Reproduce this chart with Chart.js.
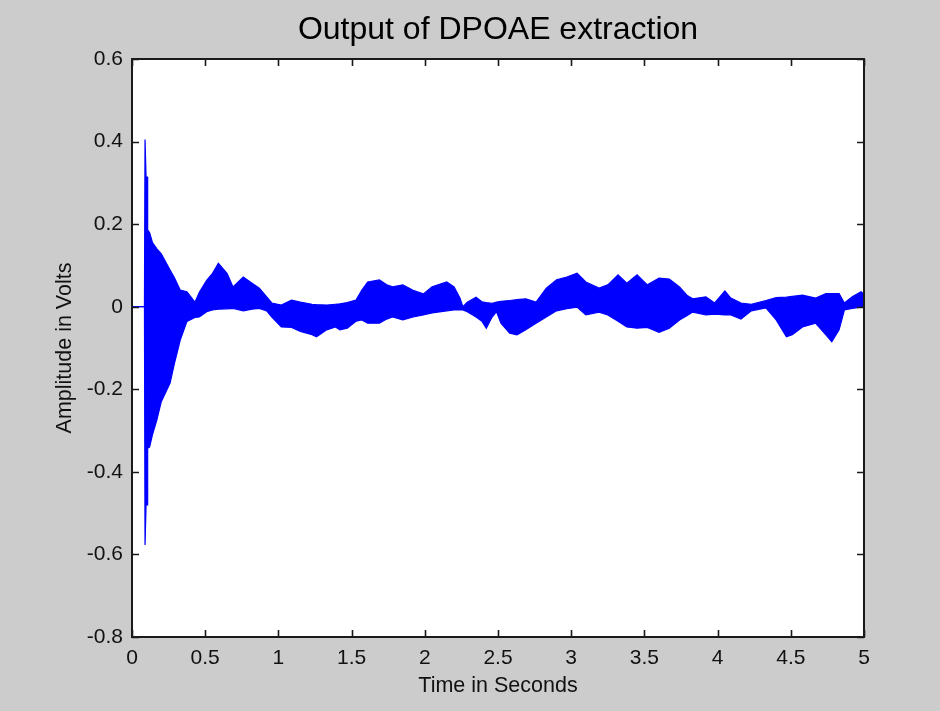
<!DOCTYPE html>
<html>
<head>
<meta charset="utf-8">
<script src="https://cdn.jsdelivr.net/npm/chart.js@4"></script>
<style>
  html, body { margin: 0; padding: 0; background: #cccccc; }
  #wrap { width: 940px; height: 711px; }
</style>
</head>
<body>
<div id="wrap"><canvas id="c" width="940" height="711"></canvas></div>
<script>
// Envelope of the extracted DPOAE signal: time (s), upper and lower amplitude (V)
const timeSec = [
  0, 0.085, 0.089, 0.096, 0.105, 0.107, 0.12, 0.14, 0.17, 0.2,
  0.26, 0.29, 0.33, 0.375, 0.43, 0.46, 0.51, 0.55, 0.59, 0.65,
  0.69, 0.76, 0.82, 0.87, 0.92, 0.955, 1.02, 1.09, 1.15, 1.23,
  1.26, 1.33, 1.39, 1.42, 1.47, 1.53, 1.57, 1.61, 1.69, 1.74,
  1.78, 1.85, 1.92, 1.99, 2.05, 2.15, 2.2, 2.24, 2.26, 2.29,
  2.35, 2.39, 2.42, 2.46, 2.49, 2.52, 2.58, 2.63, 2.69, 2.76,
  2.83, 2.9, 2.97, 3.04, 3.1, 3.19, 3.25, 3.32, 3.38, 3.45,
  3.52, 3.6, 3.67, 3.74, 3.79, 3.83, 3.92, 3.98, 4.05, 4.09,
  4.16, 4.23, 4.33, 4.4, 4.47, 4.51, 4.58, 4.67, 4.74, 4.78,
  4.83, 4.866, 4.92, 4.98, 5.0
];
const upperV = [
  0, 0, 0.405, 0.314, 0.314, 0.186, 0.18, 0.155, 0.14, 0.128,
  0.089, 0.07, 0.04, 0.036, 0.011, 0.035, 0.064, 0.081, 0.105, 0.08,
  0.048, 0.072, 0.057, 0.045, 0.024, 0.009, 0.004, 0.016, 0.011, 0.006,
  0.005, 0.004, 0.006, 0.007, 0.01, 0.016, 0.04, 0.06, 0.065, 0.053,
  0.048, 0.053, 0.04, 0.031, 0.048, 0.06, 0.048, 0.021, 0.0, 0.011,
  0.023, 0.012, 0.01, 0.008, 0.011, 0.013, 0.015, 0.017, 0.019, 0.011,
  0.045, 0.065, 0.072, 0.081, 0.06, 0.045, 0.053, 0.077, 0.057, 0.077,
  0.053, 0.069, 0.067, 0.048, 0.028, 0.019, 0.024, 0.009, 0.038, 0.021,
  0.009, 0.006, 0.015, 0.022, 0.023, 0.025, 0.028, 0.021, 0.032, 0.032,
  0.032, 0.009, 0.024, 0.036, 0.03
];
const lowerV = [
  0, 0, -0.577, -0.48, -0.48, -0.343, -0.34, -0.31, -0.274, -0.23,
  -0.185, -0.137, -0.08, -0.036, -0.026, -0.025, -0.012, -0.008, -0.006, -0.005,
  -0.004, -0.01, -0.006, -0.004, -0.01, -0.025, -0.049, -0.05, -0.06, -0.068,
  -0.073, -0.056, -0.049, -0.056, -0.052, -0.035, -0.032, -0.04, -0.04, -0.03,
  -0.025, -0.032, -0.025, -0.02, -0.015, -0.01, -0.008, -0.008, -0.008, -0.012,
  -0.025, -0.035, -0.052, -0.025, -0.012, -0.04, -0.064, -0.068, -0.056, -0.04,
  -0.025, -0.01, -0.005, -0.001, -0.02, -0.013, -0.02, -0.035, -0.049, -0.052,
  -0.05, -0.062, -0.052, -0.032, -0.022, -0.013, -0.02, -0.018, -0.02, -0.02,
  -0.03, -0.01, -0.003, -0.032, -0.073, -0.068, -0.049, -0.04, -0.068, -0.085,
  -0.056, -0.008, -0.004, -0.001, 0.0
];
const xTickValues = [0, 0.5, 1, 1.5, 2, 2.5, 3, 3.5, 4, 4.5, 5];
const yTickValues = [-0.8, -0.6, -0.4, -0.2, 0, 0.2, 0.4, 0.6];
const chartTitle = 'Output of DPOAE extraction';

const BLUE = '#0000ff';
const FONT = '"Liberation Sans", Arial, sans-serif';
const fmt = v => String(Math.round(v * 10) / 10);

// Gray figure, white axes box, black frame with inward ticks on all four sides,
// and the title centred over the axes box
const framePlugin = {
  id: 'frame',
  beforeDraw(chart) {
    const { ctx, chartArea: a } = chart;
    ctx.save();
    ctx.fillStyle = '#cccccc';
    ctx.fillRect(0, 0, chart.width, chart.height);
    ctx.fillStyle = '#ffffff';
    ctx.fillRect(a.left, a.top, a.right - a.left, a.bottom - a.top);
    ctx.restore();
  },
  afterDraw(chart) {
    const { ctx, chartArea: a, scales } = chart;
    const L = 7;
    ctx.save();
    ctx.strokeStyle = '#1a1a1a';
    ctx.lineWidth = 1.6;
    ctx.beginPath();
    xTickValues.forEach(v => {
      const x = Math.round(scales.x.getPixelForValue(v)) + 0.5;
      ctx.moveTo(x, a.bottom); ctx.lineTo(x, a.bottom - L);
      ctx.moveTo(x, a.top); ctx.lineTo(x, a.top + L);
    });
    yTickValues.forEach(v => {
      const y = Math.round(scales.y.getPixelForValue(v)) + 0.5;
      ctx.moveTo(a.left, y); ctx.lineTo(a.left + L, y);
      ctx.moveTo(a.right, y); ctx.lineTo(a.right - L, y);
    });
    ctx.stroke();
    ctx.lineWidth = 2;
    ctx.strokeRect(a.left, a.top, a.right - a.left, a.bottom - a.top);

    ctx.fillStyle = '#000';
    ctx.font = '32px ' + FONT;
    ctx.textAlign = 'center';
    ctx.textBaseline = 'middle';
    ctx.fillText(chartTitle, (a.left + a.right) / 2, 30);
    ctx.restore();
  }
};

new Chart(document.getElementById('c'), {
  type: 'line',
  data: {
    labels: timeSec,
    datasets: [
      {
        label: 'upper',
        data: timeSec.map((t, i) => ({ x: t, y: upperV[i] })),
        borderColor: BLUE,
        backgroundColor: BLUE,
        borderWidth: 1.2,
        pointRadius: 0,
        tension: 0,
        fill: false
      },
      {
        label: 'lower',
        data: timeSec.map((t, i) => ({ x: t, y: lowerV[i] })),
        borderColor: BLUE,
        backgroundColor: BLUE,
        borderWidth: 1.2,
        pointRadius: 0,
        tension: 0,
        fill: 0
      }
    ]
  },
  options: {
    responsive: false,
    animation: false,
    layout: { padding: { left: 0, right: 76, top: 59, bottom: 0 } },
    plugins: {
      legend: { display: false },
      tooltip: { enabled: false },
      title: { display: false }
    },
    scales: {
      x: {
        type: 'linear',
        min: 0, max: 5,
        afterBuildTicks(s) { s.ticks = xTickValues.map(v => ({ value: v })); },
        afterFit(s) { s.height = 74; },
        grid: { display: false, drawTicks: false },
        border: { display: false },
        ticks: {
          color: '#111', padding: 9,
          font: { family: FONT, size: 21 },
          maxRotation: 0, autoSkip: false,
          callback: fmt
        },
        title: {
          display: true, text: 'Time in Seconds', color: '#111',
          font: { family: FONT, size: 21.5 },
          padding: { top: 2, bottom: 12 }
        }
      },
      y: {
        type: 'linear',
        min: -0.8, max: 0.6,
        afterBuildTicks(s) { s.ticks = yTickValues.map(v => ({ value: v })); },
        afterFit(s) { s.width = 132; },
        grid: { display: false, drawTicks: false },
        border: { display: false },
        ticks: {
          color: '#111', padding: 9,
          font: { family: FONT, size: 21 },
          callback: fmt
        },
        title: {
          display: true, text: 'Amplitude in Volts', color: '#111',
          font: { family: FONT, size: 21.5 },
          padding: { top: 52, bottom: 0 }
        }
      }
    }
  },
  plugins: [framePlugin]
});
</script>
</body>
</html>
